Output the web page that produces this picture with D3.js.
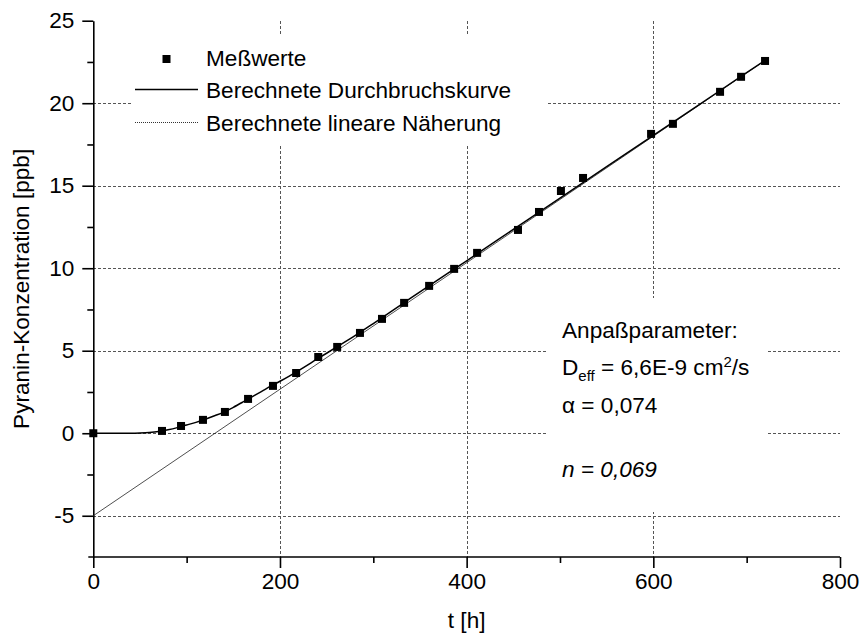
<!DOCTYPE html>
<html>
<head>
<meta charset="utf-8">
<script src="https://cdn.jsdelivr.net/npm/d3@7"></script>
<style>
  html, body { margin: 0; padding: 0; background: #fff; }
  svg { display: block; font-family: "Liberation Sans", Arial, sans-serif; }
</style>
</head>
<body>
<svg id="chart" width="864" height="642"></svg>
<script>
// Measured pyranine concentration over time
const measT = [0, 73.6, 94, 117.5, 141, 165.8, 192.5, 217.3, 241, 261.3, 285.7, 309.3, 333, 359.8, 386.6, 411.2, 455, 477.5, 501, 524.7, 597.6, 621, 671.5, 694, 719.7];
const measC = [0, 0.14, 0.44, 0.81, 1.29, 2.08, 2.87, 3.65, 4.62, 5.23, 6.08, 6.93, 7.9, 8.93, 9.96, 10.93, 12.32, 13.41, 14.68, 15.47, 18.14, 18.75, 20.69, 21.6, 22.56];

// Calculated breakthrough curve
const curveT = [0, 20, 40, 50, 60, 70, 80, 90, 100, 110, 120, 130, 140, 150, 160, 170, 180, 190, 200, 220, 240, 260, 280, 300, 330, 360, 400, 450, 500, 550, 600, 650, 700, 720];
const curveC = [0, 0, 0.005, 0.02, 0.05, 0.11, 0.21, 0.34, 0.5, 0.66, 0.85, 1.06, 1.28, 1.57, 1.88, 2.2, 2.52, 2.85, 3.15, 3.8, 4.5, 5.2, 5.9, 6.65, 7.8, 8.95, 10.45, 12.35, 14.25, 16.15, 18.05, 19.95, 21.85, 22.6];

// Calculated linear approximation (end points)
const linT = [0, 720];
const linC = [-5, 22.6];

// Axis ticks
const xMajor = [0, 200, 400, 600, 800];
const xMinor = [100, 300, 500, 700];
const yMajor = [-5, 0, 5, 10, 15, 20, 25];
const yMinor = [-2.5, 2.5, 7.5, 12.5, 17.5, 22.5];
const xGrid = [200, 400, 600];
const yGrid = [-5, 0, 5, 10, 15, 20];

const legendLabels = ["Meßwerte", "Berechnete Durchbruchskurve", "Berechnete lineare Näherung"];

const svg = d3.select("#chart");
const FONT = 22.6;

const x = d3.scaleLinear().domain([0, 800]).range([93.3, 840]);
const y = d3.scaleLinear().domain([-7.5, 25]).range([557, 20.7]);

// Grid lines
const grid = svg.append("g").attr("stroke", "#555").attr("stroke-width", 1)
  .attr("stroke-dasharray", "3,2").attr("shape-rendering", "crispEdges");
grid.selectAll("line.h").data(yGrid).join("line").attr("class", "h")
  .attr("x1", x(0)).attr("x2", x(800))
  .attr("y1", d => Math.round(y(d)) + 0.5).attr("y2", d => Math.round(y(d)) + 0.5);
grid.selectAll("line.v").data(xGrid).join("line").attr("class", "v")
  .attr("y1", y(25)).attr("y2", y(-7.5))
  .attr("x1", d => Math.round(x(d)) + 0.5).attr("x2", d => Math.round(x(d)) + 0.5);

// White panels behind the legend and the parameter note
svg.append("rect").attr("x", 131).attr("y", 36).attr("width", 417).attr("height", 108).attr("fill", "#fff");
svg.append("rect").attr("x", 547).attr("y", 298).attr("width", 221).attr("height", 214).attr("fill", "#fff");

// Axes
const fmt = d => String(d);
svg.append("g").attr("transform", `translate(${x(0)},0)`)
  .call(d3.axisLeft(y).tickValues(yMajor).tickFormat(fmt).tickSize(11).tickSizeOuter(0).tickPadding(8));
svg.append("g").attr("transform", `translate(${x(0)},0)`)
  .call(d3.axisLeft(y).tickValues(yMinor).tickSize(6).tickSizeOuter(0).tickFormat(""))
  .select(".domain").remove();

const xAxis = svg.append("g").attr("transform", `translate(0,${y(-7.5)})`)
  .call(d3.axisBottom(x).tickValues(xMajor).tickFormat(fmt).tickSize(11).tickSizeOuter(0).tickPadding(5));
svg.append("g").attr("transform", `translate(0,${y(-7.5)})`)
  .call(d3.axisBottom(x).tickValues(xMinor).tickSize(6).tickSizeOuter(0).tickFormat(""))
  .select(".domain").remove();
xAxis.select(".domain").attr("d", `M${x(0) - 5},0H${x(800)}`);

svg.selectAll(".tick text").attr("font-size", FONT).attr("font-family", "Liberation Sans, Arial, sans-serif").attr("fill", "#000");
svg.selectAll(".domain, .tick line").attr("stroke", "#000").attr("stroke-width", 1.6);

// Linear approximation
svg.append("path")
  .datum(linT.map((t, i) => [t, linC[i]]))
  .attr("fill", "none").attr("stroke", "#222").attr("stroke-width", 0.8)
  .attr("d", d3.line().x(d => x(d[0])).y(d => y(d[1])));

// Breakthrough curve
svg.append("path")
  .datum(curveT.map((t, i) => [t, curveC[i]]))
  .attr("fill", "none").attr("stroke", "#000").attr("stroke-width", 1.5)
  .attr("d", d3.line().curve(d3.curveMonotoneX).x(d => x(d[0])).y(d => y(d[1])));

// Measured points
const S = 8;
svg.append("g").selectAll("rect").data(measT.map((t, i) => [t, measC[i]])).join("rect")
  .attr("x", d => x(d[0]) - S / 2).attr("y", d => y(d[1]) - S / 2)
  .attr("width", S).attr("height", S).attr("fill", "#000");

// Legend
const lg = svg.append("g").attr("font-size", FONT);
lg.append("rect").attr("x", 166.5 - S / 2).attr("y", 59 - S / 2).attr("width", S).attr("height", S).attr("fill", "#000");
lg.append("line").attr("x1", 135).attr("x2", 198).attr("y1", 89.5).attr("y2", 89.5).attr("stroke", "#000").attr("stroke-width", 1.3);
lg.append("line").attr("x1", 135).attr("x2", 198).attr("y1", 122.5).attr("y2", 122.5).attr("stroke", "#333").attr("stroke-width", 1).attr("stroke-dasharray", "1,1");
lg.selectAll("text").data(legendLabels).join("text")
  .attr("x", 206).attr("y", (d, i) => 66 + i * 32.3).text(d => d);

// Fit parameters
const note = svg.append("g").attr("font-size", FONT);
note.append("text").attr("x", 562).attr("y", 338).text("Anpaßparameter:");
const dl = note.append("text").attr("x", 562).attr("y", 375);
dl.append("tspan").text("D");
dl.append("tspan").attr("font-size", 15).attr("dy", 6).text("eff");
dl.append("tspan").attr("dy", -6).text(" = 6,6E-9 cm");
dl.append("tspan").attr("font-size", 15).attr("dy", -8).text("2");
dl.append("tspan").attr("dy", 8).text("/s");
note.append("text").attr("x", 562).attr("y", 413).text("α = 0,074");
note.append("text").attr("x", 562).attr("y", 477).attr("font-style", "italic").text("n = 0,069");

// Axis titles
svg.append("text").attr("font-size", FONT).attr("text-anchor", "middle")
  .attr("transform", `translate(29,${(y(25) + y(-7.5)) / 2}) rotate(-90)`)
  .text("Pyranin-Konzentration [ppb]");
svg.append("text").attr("font-size", FONT).attr("text-anchor", "middle")
  .attr("x", (x(0) + x(800)) / 2).attr("y", 628).text("t [h]");
</script>
</body>
</html>
